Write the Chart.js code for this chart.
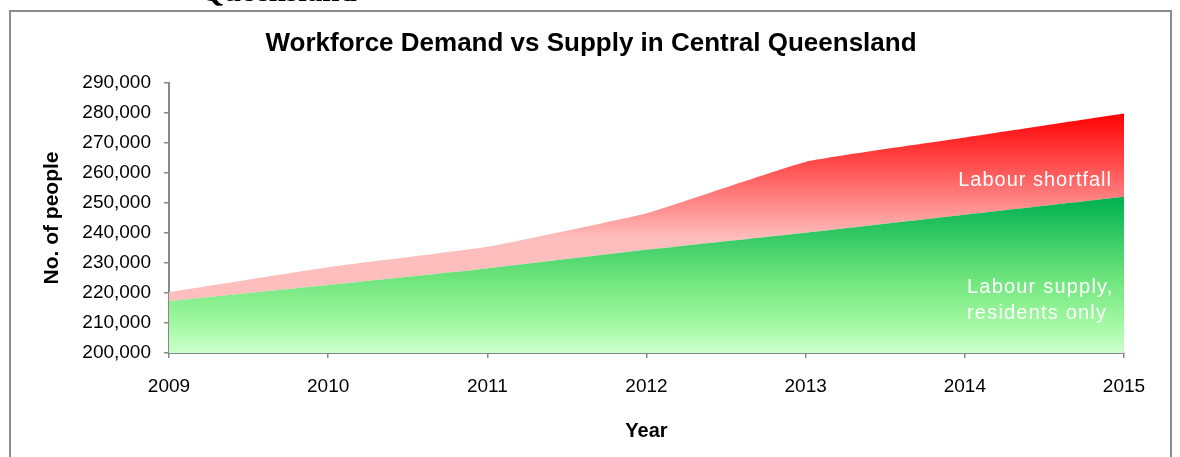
<!DOCTYPE html>
<html>
<head>
<meta charset="utf-8">
<title>Workforce Demand vs Supply</title>
<script src="https://cdn.jsdelivr.net/npm/chart.js@4.4.1/dist/chart.umd.min.js"></script>
<style>
  body { margin: 0; background: #fff; overflow: hidden; }
  #wrap { position: relative; width: 1180px; height: 457px; }
  #frame {
    position: absolute; left: 9px; top: 10px; width: 1163px; height: 470px;
    border: 2px solid #8c8c8c; box-sizing: border-box; pointer-events: none;
  }
  #caption {
    position: absolute; left: 200px; top: -25px;
    font: bold 31px "Liberation Serif", "Times New Roman", serif; line-height: 31px;
  }
</style>
</head>
<body>
<div id="wrap">
  <canvas id="chart" width="1180" height="457"></canvas>
  <div id="frame"></div>
  <div id="caption">Queensland</div>
</div>
<script>
const years = ["2009", "2010", "2011", "2012", "2013", "2014", "2015"];
const demand = [220300, 228600, 235400, 246600, 263700, 271800, 279800];
const supply = [217300, 222700, 228200, 234400, 240100, 246100, 252100];
const yTicks = [200000, 210000, 220000, 230000, 240000, 250000, 260000, 270000, 280000, 290000];
const chartTitle = "Workforce Demand vs Supply in Central Queensland";

const fontFamily = '"Liberation Sans", Arial, sans-serif';

// gradients are built from the y scale so they follow the data
function redFill(ctx) {
  const chart = ctx.chart;
  if (!chart.chartArea) return "rgba(255,120,120,1)";
  const y = chart.scales.y;
  const g = chart.ctx.createLinearGradient(0, y.getPixelForValue(280000), 0, y.getPixelForValue(238000));
  g.addColorStop(0, "#ff0000");
  g.addColorStop(1, "#ffbebe");
  return g;
}

function greenFill(ctx) {
  const chart = ctx.chart;
  if (!chart.chartArea) return "rgba(100,220,120,1)";
  const y = chart.scales.y;
  const g = chart.ctx.createLinearGradient(0, y.getPixelForValue(252000), 0, y.getPixelForValue(200000));
  g.addColorStop(0, "#00b050");
  g.addColorStop(0.5, "#6ae37a");
  g.addColorStop(0.8, "#a0f8a0");
  g.addColorStop(1, "#ccffcc");
  return g;
}

// title centred on the whole canvas (the built-in one centres on the padded box)
const pageTitle = {
  id: "pageTitle",
  afterDraw(chart) {
    const c = chart.ctx;
    c.save();
    c.fillStyle = "#000";
    c.font = "bold 26px " + fontFamily;
    c.textAlign = "center";
    c.textBaseline = "middle";
    c.fillText(chartTitle, 591, 44);
    c.restore();
  }
};

const areaLabels = {
  id: "areaLabels",
  afterDatasetsDraw(chart) {
    const c = chart.ctx;
    const x = chart.scales.x, y = chart.scales.y;
    const right = x.getPixelForValue(years.length - 1);
    c.save();
    c.fillStyle = "#ffffff";
    c.font = "20px " + fontFamily;
    c.textBaseline = "middle";
    c.letterSpacing = "1px";
    c.textAlign = "right";
    c.fillText("Labour shortfall", right - 12, y.getPixelForValue(257400));
    c.letterSpacing = "1.2px";
    c.textAlign = "left";
    c.fillText("Labour supply,", right - 157, y.getPixelForValue(222000));
    c.fillText("residents only", right - 157, y.getPixelForValue(213300));
    c.restore();
  }
};

new Chart(document.getElementById("chart"), {
  type: "line",
  data: {
    labels: years,
    datasets: [
      {
        label: "Labour supply, residents only",
        data: supply,
        fill: "start",
        backgroundColor: greenFill,
        borderWidth: 0,
        pointRadius: 0,
        tension: 0.12
      },
      {
        label: "Labour shortfall",
        data: demand,
        fill: "-1",
        backgroundColor: redFill,
        borderWidth: 0,
        pointRadius: 0,
        tension: 0.12
      }
    ]
  },
  options: {
    responsive: false,
    animation: false,
    layout: { padding: { left: 0, right: 56, top: 83, bottom: 0 } },
    plugins: {
      legend: { display: false },
      tooltip: { enabled: false },
      title: { display: false }
    },
    scales: {
      x: {
        offset: false,
        grid: { display: true, drawOnChartArea: false, drawTicks: true, tickLength: 5, color: "#888", lineWidth: 1.5 },
        border: { color: "#888", width: 2 },
        ticks: { color: "#000", font: { family: fontFamily, size: 19 }, padding: 17, maxRotation: 0 },
        title: {
          display: true, text: "Year", color: "#000",
          font: { family: fontFamily, size: 20, weight: "bold", lineHeight: 1.2 },
          padding: { top: 0, bottom: 14 }
        },
        afterFit(scale) { scale.height = 104; }
      },
      y: {
        min: 200000,
        max: 290000,
        afterBuildTicks(scale) { scale.ticks = yTicks.map(v => ({ value: v })); },
        grid: { display: true, drawOnChartArea: false, drawTicks: true, tickLength: 5, color: "#888", lineWidth: 1.5 },
        border: { color: "#888", width: 2 },
        ticks: {
          color: "#000", font: { family: fontFamily, size: 19 }, padding: 13,
          callback: v => v.toLocaleString("en-US")
        },
        title: {
          display: true, text: "No. of people", color: "#000",
          font: { family: fontFamily, size: 21, weight: "bold", lineHeight: 1.2 },
          padding: { top: 40, bottom: 0 }
        },
        afterFit(scale) { scale.width = 169; }
      }
    }
  },
  plugins: [areaLabels, pageTitle]
});
</script>
</body>
</html>
